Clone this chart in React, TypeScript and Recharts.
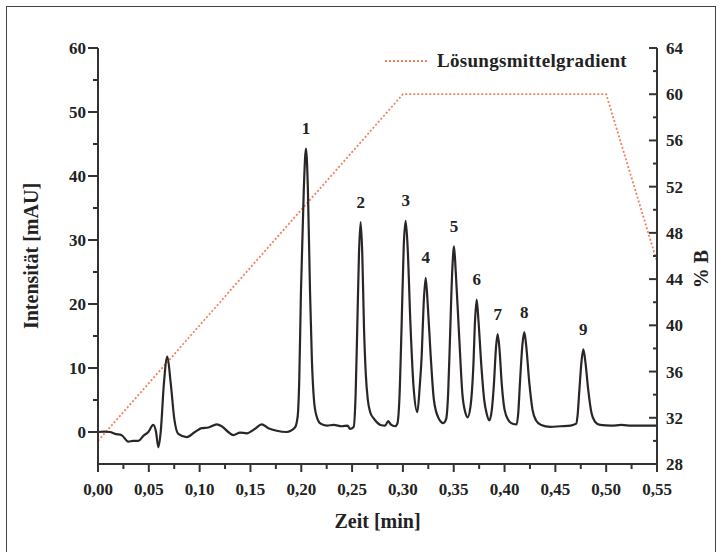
import React from "react";
import {
  ComposedChart,
  Line,
  Scatter,
  XAxis,
  YAxis,
  Label,
  LabelList,
  Legend,
} from "recharts";

// Chromatogramm: Zeit [min] und Intensität [mAU]
const zeit = [
  0, 0.006, 0.0118, 0.0167, 0.0233, 0.0298, 0.0345, 0.0397, 0.0446, 0.0495,
  0.0544, 0.0571, 0.0594, 0.0617, 0.0649, 0.0682, 0.0715, 0.0751, 0.079, 0.0873,
  0.0954, 0.102, 0.1085, 0.1168, 0.1217, 0.1282, 0.1331, 0.1397, 0.1463, 0.1545,
  0.161, 0.1676, 0.1758, 0.1856, 0.1938, 0.1965, 0.198, 0.1997, 0.2025, 0.2046,
  0.2065, 0.2086, 0.2105, 0.2125, 0.215, 0.219, 0.225, 0.232, 0.24, 0.2455,
  0.248, 0.2515, 0.2535, 0.2551, 0.2568, 0.2584, 0.26, 0.2617, 0.2635, 0.2655,
  0.268, 0.2709, 0.2745, 0.278, 0.2825, 0.2855, 0.2885, 0.2922, 0.2945, 0.2965,
  0.2987, 0.3008, 0.3027, 0.3046, 0.3075, 0.3105, 0.3142, 0.3165, 0.3185, 0.3204,
  0.3224, 0.3244, 0.3273, 0.3305, 0.335, 0.3398, 0.3425, 0.3445, 0.3463, 0.3485,
  0.3503, 0.352, 0.3555, 0.3585, 0.3615, 0.3637, 0.3665, 0.3693, 0.371, 0.3726,
  0.3743, 0.3772, 0.38, 0.3825, 0.385, 0.3875, 0.3896, 0.3915, 0.3932, 0.395,
  0.3972, 0.4, 0.404, 0.408, 0.4119, 0.4135, 0.4152, 0.4175, 0.4194, 0.4213,
  0.4243, 0.4275, 0.431, 0.436, 0.445, 0.455, 0.465, 0.4705, 0.4718, 0.4736,
  0.4757, 0.4775, 0.4795, 0.4824, 0.4855, 0.489, 0.494, 0.505, 0.515, 0.525,
  0.54, 0.55,
];
const intensitaet = [
  0, 0.05, 0, -0.3, -0.5, -1.5, -1.4, -1.4, -0.6, 0,
  1.1, 0, -2.4, 0, 7.7, 11.8, 7.7, 2.0, -0.3, -0.8,
  0, 0.6, 0.7, 1.2, 0.9, 0, -0.5, -0.1, -0.2, 0.5,
  1.2, 0.6, 0.2, 0, 0.7, 2.5, 8, 22, 38, 44.3,
  38, 22, 11, 5, 2.5, 1.3, 1.0, 1.1, 0.9, 1.0,
  0.5, 0.8, 6, 16.4, 28, 32.8, 28, 16.4, 9, 5,
  3, 2.2, 1.5, 1.1, 1.0, 1.7, 1.1, 0.9, 1.3, 5,
  16.5, 29, 33, 29, 16.5, 7, 3.1, 7, 12, 20,
  24.1, 20, 12, 5, 2.2, 1.4, 2, 6, 14.5, 25,
  29, 25, 14.5, 6, 3, 2.3, 4, 10.3, 17.5, 20.7,
  17.5, 10.3, 5, 2.8, 1.8, 3.5, 7.6, 13, 15.3, 13,
  7.6, 3.5, 1.8, 1.3, 1.2, 3, 7.8, 13.5, 15.6, 13.5,
  7.8, 3.5, 1.8, 1.1, 0.8, 0.9, 1.0, 1.3, 2.5, 6.5,
  11, 12.9, 11, 6.5, 3, 1.6, 1.1, 1.0, 1.1, 1.0,
  1.0, 1.0,
];

// Peaks 1-9
const peakNamen = ["1", "2", "3", "4", "5", "6", "7", "8", "9"];
const peakZeit = [0.2046, 0.2584, 0.3027, 0.3224, 0.3503, 0.3726, 0.3932, 0.4194, 0.4775];
const peakHoehe = [44.3, 32.8, 33, 24.1, 29, 20.7, 15.3, 15.6, 12.9];

// Lösungsmittelgradient (% B)
const gradZeit = [0, 0.3, 0.5, 0.55];
const gradB = [30, 60, 60, 45.5];

const xTicks = [
  0, 0.025, 0.05, 0.075, 0.1, 0.125, 0.15, 0.175, 0.2, 0.225, 0.25, 0.275,
  0.3, 0.325, 0.35, 0.375, 0.4, 0.425, 0.45, 0.475, 0.5, 0.525, 0.55,
];
const leftTicks = [0, 5, 10, 15, 20, 25, 30, 35, 40, 45, 50, 55, 60];
const rightTicks = [28, 30, 32, 34, 36, 38, 40, 42, 44, 46, 48, 50, 52, 54, 56, 58, 60, 62, 64];

const chromData = zeit.map((t, k) => ({ t, i: intensitaet[k] }));
const gradData = gradZeit.map((t, k) => ({ t, b: gradB[k] }));
const peakData = peakZeit.map((t, k) => ({ t, h: peakHoehe[k], name: peakNamen[k] }));

const FONT = "'Liberation Serif', 'Times New Roman', serif";
const AXIS = "#333";
const GRAD = "#f2805e";

const txt = { fontFamily: FONT, fontWeight: 700, fontSize: 17, fill: "#222" };

function XTick({ x, y, payload }: any) {
  const v = payload.value;
  const major = Math.round(v * 1000) % 50 === 0;
  return (
    <g>
      <line x1={x} x2={x} y1={y} y2={y + (major ? 8 : 5)} stroke={AXIS} strokeWidth={2} />
      {major && (
        <text x={x} y={y + 31} textAnchor="middle" {...txt}>
          {v.toFixed(2).replace(".", ",")}
        </text>
      )}
    </g>
  );
}

function LeftTick({ x, y, payload }: any) {
  const v = payload.value;
  const major = v % 10 === 0;
  return (
    <g>
      <line x1={x - (major ? 10 : 5)} x2={x} y1={y} y2={y} stroke={AXIS} strokeWidth={2} />
      {major && (
        <text x={x - 12} y={y + 6} textAnchor="end" {...txt}>
          {v}
        </text>
      )}
    </g>
  );
}

function RightTick({ x, y, payload }: any) {
  const v = payload.value;
  const major = (v - 28) % 4 === 0;
  return (
    <g>
      <line x1={x - (major ? 8 : 4)} x2={x} y1={y} y2={y} stroke={AXIS} strokeWidth={2} />
      {major && (
        <text x={x + 9} y={y + 6} textAnchor="start" {...txt}>
          {v}
        </text>
      )}
    </g>
  );
}

function RightTitle({ viewBox }: any) {
  const cx = viewBox.x + viewBox.width - 22;
  const cy = viewBox.y + viewBox.height / 2 + 13;
  return (
    <text
      x={cx}
      y={cy}
      transform={`rotate(-90, ${cx}, ${cy})`}
      textAnchor="middle"
      dominantBaseline="central"
      style={{ fontFamily: FONT, fontWeight: 700, fontSize: 20, fill: "#222" }}
    >
      % B
    </text>
  );
}

function GradLegend() {
  return (
    <div style={{ display: "flex", alignItems: "center", gap: 10 }}>
      <svg width={42} height={4}>
        <line x1={0} y1={2} x2={42} y2={2} stroke={GRAD} strokeWidth={2} strokeDasharray="2 2" />
      </svg>
      <span
        style={{
          fontFamily: FONT,
          fontWeight: 700,
          fontSize: 19,
          letterSpacing: 0.3,
          color: "#222",
          lineHeight: "20px",
        }}
      >
        Lösungsmittelgradient
      </span>
    </div>
  );
}

export default function App() {
  const titleStyle = { fontFamily: FONT, fontWeight: 700, fontSize: 20, fill: "#222", textAnchor: "middle" as const };
  return (
    <div style={{ position: "absolute", left: 0, top: 0, width: 723, height: 552, background: "#fff" }}>
      <div
        style={{
          position: "absolute",
          left: 6,
          top: 6,
          width: 708,
          height: 546,
          borderTop: "1.5px solid #444",
          borderLeft: "1.5px solid #444",
          borderRight: "1.5px solid #444",
        }}
      />
      <ComposedChart
        width={723}
        height={552}
        margin={{ top: 48, right: 0, bottom: 0, left: 0 }}
        style={{ position: "absolute", left: 0, top: 0 }}
      >
        <XAxis
          dataKey="t"
          type="number"
          domain={[0, 0.55]}
          ticks={xTicks}
          interval={0}
          height={88}
          tickSize={0}
          tickMargin={0}
          tickLine={false}
          tick={<XTick />}
          axisLine={{ stroke: AXIS, strokeWidth: 2 }}
          allowDataOverflow
        >
          <Label value="Zeit [min]" position="insideTop" offset={50} style={titleStyle} />
        </XAxis>
        <XAxis
          xAxisId="top"
          orientation="top"
          type="number"
          domain={[0, 0.55]}
          height={0}
          tick={false}
          tickLine={false}
          axisLine={{ stroke: AXIS, strokeWidth: 2 }}
        />
        <YAxis
          yAxisId="left"
          type="number"
          domain={[-5, 60]}
          ticks={leftTicks}
          interval={0}
          width={98}
          tickSize={0}
          tickMargin={0}
          tickLine={false}
          tick={<LeftTick />}
          axisLine={{ stroke: AXIS, strokeWidth: 2 }}
          allowDataOverflow
        >
          <Label value="Intensität [mAU]" position="insideLeft" offset={31} angle={-90} style={titleStyle} />
        </YAxis>
        <YAxis
          yAxisId="right"
          orientation="right"
          type="number"
          domain={[28, 64]}
          ticks={rightTicks}
          interval={0}
          width={66}
          tickSize={0}
          tickMargin={0}
          tickLine={false}
          tick={<RightTick />}
          axisLine={{ stroke: AXIS, strokeWidth: 2 }}
          allowDataOverflow
        >
          <Label content={<RightTitle />} />
        </YAxis>
        <Legend
          layout="vertical"
          align="center"
          verticalAlign="middle"
          content={<GradLegend />}
          wrapperStyle={{ left: 385, top: 51, width: 270 }}
        />
        <Line
          data={gradData}
          yAxisId="right"
          dataKey="b"
          type="linear"
          stroke={GRAD}
          strokeWidth={1.8}
          strokeDasharray="2 2"
          dot={false}
          legendType="none"
          isAnimationActive={false}
        />
        <Line
          data={chromData}
          yAxisId="left"
          dataKey="i"
          type="monotone"
          stroke="#2b2626"
          strokeWidth={2.2}
          dot={false}
          legendType="none"
          isAnimationActive={false}
        />
        <Scatter
          data={peakData}
          yAxisId="left"
          dataKey="h"
          shape={() => <g />}
          legendType="none"
          isAnimationActive={false}
        >
          <LabelList dataKey="name" position="top" offset={10} style={{ fontFamily: FONT, fontWeight: 700, fontSize: 17, fill: "#222" }} />
        </Scatter>
      </ComposedChart>
    </div>
  );
}
